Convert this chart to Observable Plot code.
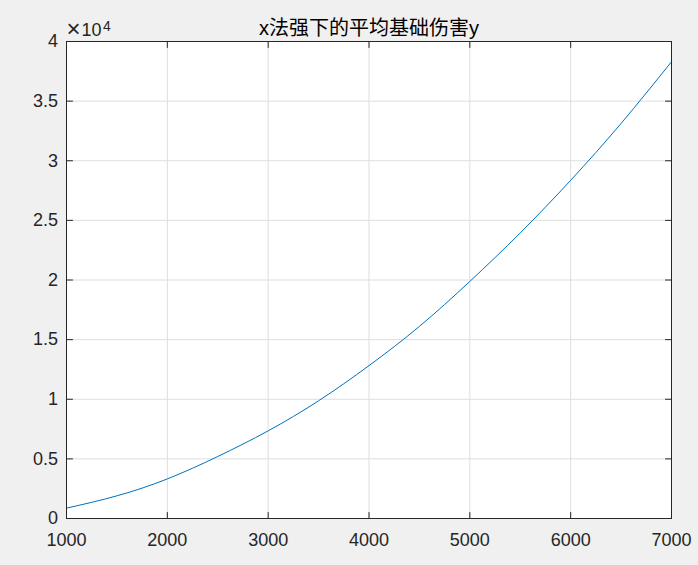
<!DOCTYPE html>
<html>
<head>
<meta charset="utf-8">
<script src="https://cdn.jsdelivr.net/npm/d3@7"></script>
<script src="https://cdn.jsdelivr.net/npm/@observablehq/plot@0.6"></script>
<style>
  html, body { margin: 0; padding: 0; background: #f0f0f0; }
  #chart { width: 698px; height: 565px; }
</style>
</head>
<body>
<div id="chart"></div>
<script>
// Data
const xValues = [1000, 1500, 2000, 2500, 3000, 3500, 4000, 4500, 5000, 5500, 6000, 6500, 7000];
const yValues = [870, 1900, 3320, 5200, 7350, 9870, 12820, 16110, 19880, 23950, 28360, 33130, 38300];
const xTicks = [1000, 2000, 3000, 4000, 5000, 6000, 7000];
const yTicks = [0, 5000, 10000, 15000, 20000, 25000, 30000, 35000, 40000];
const titleText = "x法强下的平均基础伤害y";
const exponentTimes = "×";
const exponentBase = "10";
const exponentPower = "4";

const data = xValues.map((x, i) => ({x, y: yValues[i]}));

const axisColor = "#262626";
const latin = "'Liberation Sans', Arial, Helvetica, sans-serif";
const labelSize = 18;
const tickShape = {draw(ctx, l) { ctx.moveTo(0, 0); ctx.lineTo(0, -l); }};
const tickOpts = {length: 6, anchor: "start", shape: tickShape, stroke: axisColor, strokeWidth: 1};

const chart = Plot.plot({
  width: 698,
  height: 565,
  marginLeft: 66,
  marginRight: 27,
  marginTop: 41,
  marginBottom: 47,
  style: {background: "transparent", fontFamily: latin, fontSize: labelSize + "px", color: axisColor},
  x: {domain: [1000, 7000]},
  y: {domain: [0, 40000]},
  marks: [
    Plot.frame({fill: "white", stroke: null}),
    Plot.gridX(xTicks, {stroke: "#dedede", strokeOpacity: 1}),
    Plot.gridY(yTicks, {stroke: "#dedede", strokeOpacity: 1}),
    Plot.line(data, {x: "x", y: "y", stroke: "#0072BD", strokeWidth: 1, curve: "natural"}),
    Plot.frame({stroke: axisColor, strokeWidth: 1}),
    Plot.vector(xTicks, {x: d => d, frameAnchor: "bottom", rotate: 0, ...tickOpts}),
    Plot.vector(xTicks, {x: d => d, frameAnchor: "top", rotate: 180, ...tickOpts}),
    Plot.vector(yTicks, {y: d => d, frameAnchor: "left", rotate: 90, ...tickOpts}),
    Plot.vector(yTicks, {y: d => d, frameAnchor: "right", rotate: -90, ...tickOpts}),
    Plot.axisX(xTicks, {tickSize: 0, tickPadding: 15, fontSize: labelSize, tickFormat: d => String(d), label: null, fill: axisColor}),
    Plot.axisY(yTicks, {tickSize: 0, tickPadding: 8.5, fontSize: labelSize, tickFormat: d => String(d / 1e4), label: null, fill: axisColor}),
    Plot.text([exponentTimes], {frameAnchor: "top-left", textAnchor: "start", lineAnchor: "bottom", dx: 0, dy: -5, fontSize: 24, fill: axisColor}),
    Plot.text([exponentBase], {frameAnchor: "top-left", textAnchor: "start", lineAnchor: "bottom", dx: 15, dy: -6, fontSize: labelSize, fill: axisColor}),
    Plot.text([exponentPower], {frameAnchor: "top-left", textAnchor: "start", lineAnchor: "bottom", dx: 36.5, dy: -10.5, fontSize: 14, fill: axisColor}),
    Plot.text([titleText], {frameAnchor: "top", lineAnchor: "bottom", dy: -7, fontSize: 20, fill: "#000", fontFamily: "'Liberation Sans', 'Noto Sans CJK SC', sans-serif"})
  ]
});
document.getElementById("chart").appendChild(chart);
</script>
</body>
</html>
